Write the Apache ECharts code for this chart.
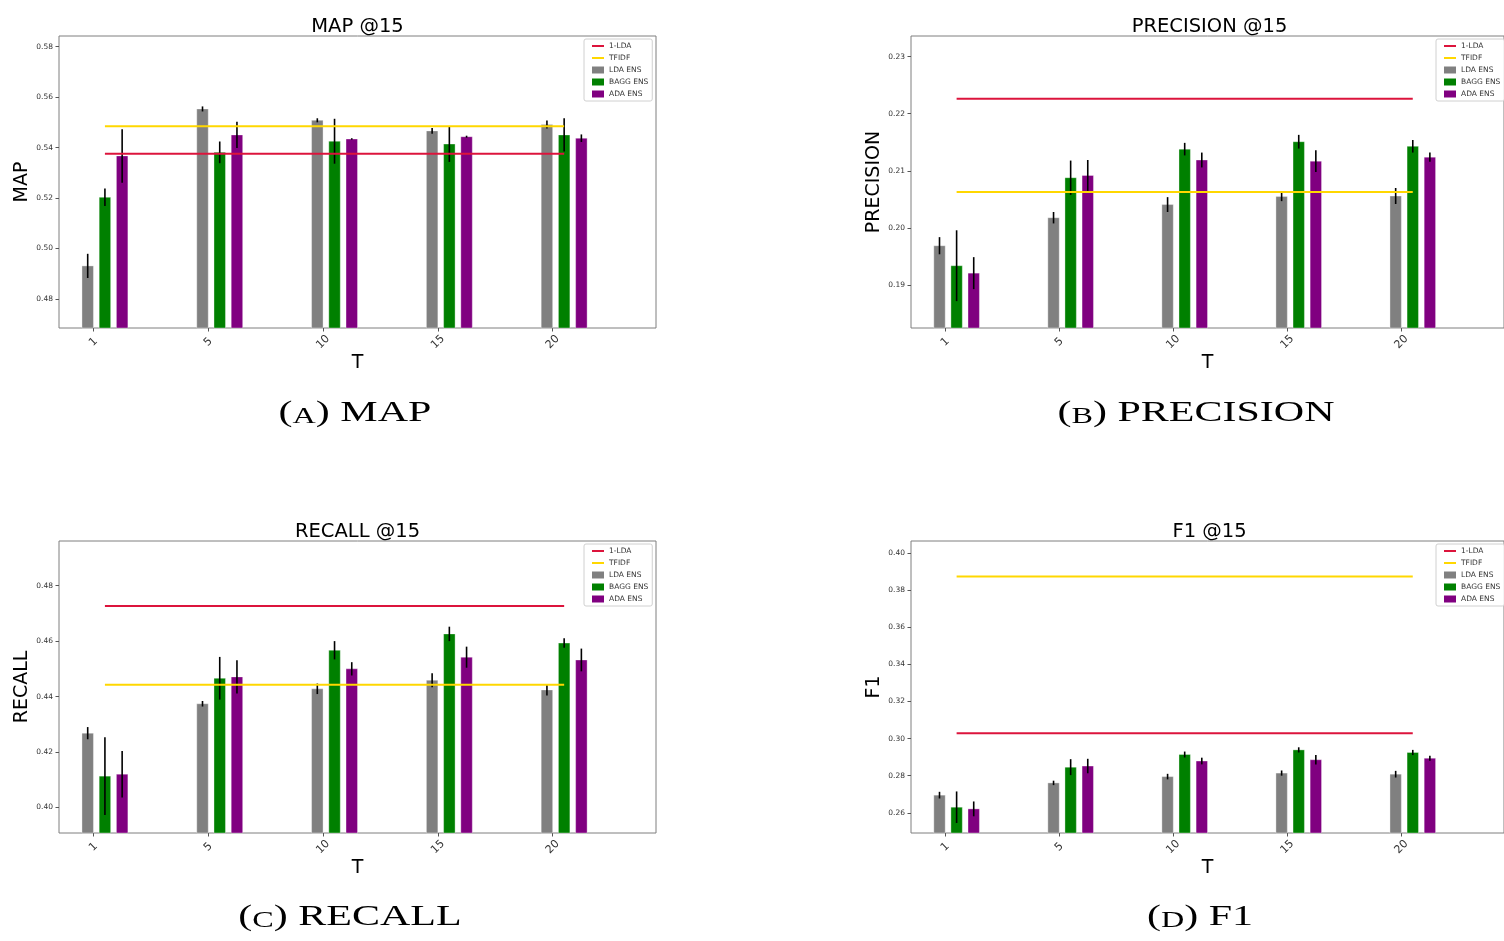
<!DOCTYPE html>
<html>
<head>
<meta charset="utf-8">
<script src="https://cdn.jsdelivr.net/npm/echarts@6/dist/echarts.min.js"></script>
<style>
html,body{margin:0;padding:0;background:#fff;}
#chart{width:1504px;height:941px;}
</style>
</head>
<body>
<div id="chart"></div>
<script>
// ---------------- data ----------------
const T_LABELS = ['1', '5', '10', '15', '20'];
const SERIES_NAMES = ['1-LDA', 'TFIDF', 'LDA ENS', 'BAGG ENS', 'ADA ENS'];

const MAP_LDA = [0.4931, 0.5553, 0.5508, 0.5466, 0.5491];
const MAP_LDA_ERR = [0.0048, 0.0010, 0.0008, 0.0011, 0.0016];
const MAP_BAGG = [0.5203, 0.5381, 0.5425, 0.5414, 0.5450];
const MAP_BAGG_ERR = [0.0035, 0.0043, 0.0089, 0.0071, 0.0066];
const MAP_ADA = [0.5367, 0.5450, 0.5434, 0.5443, 0.5437];
const MAP_ADA_ERR = [0.0106, 0.0052, 0.0003, 0.0004, 0.0015];
const MAP_ONE_LDA = 0.5375;
const MAP_TFIDF = 0.5484;
const MAP_TICKS = [0.48, 0.50, 0.52, 0.54, 0.56, 0.58];

const PREC_LDA = [0.1969, 0.2018, 0.2041, 0.2055, 0.2056];
const PREC_LDA_ERR = [0.0015, 0.0010, 0.0013, 0.0008, 0.0014];
const PREC_BAGG = [0.1934, 0.2088, 0.2138, 0.2151, 0.2143];
const PREC_BAGG_ERR = [0.0062, 0.0030, 0.0011, 0.0012, 0.0011];
const PREC_ADA = [0.1921, 0.2092, 0.2119, 0.2117, 0.2124];
const PREC_ADA_ERR = [0.0028, 0.0027, 0.0013, 0.0019, 0.0008];
const PREC_ONE_LDA = 0.2226;
const PREC_TFIDF = 0.2063;
const PREC_TICKS = [0.19, 0.20, 0.21, 0.22, 0.23];

const REC_LDA = [0.4268, 0.4374, 0.4428, 0.4459, 0.4424];
const REC_LDA_ERR = [0.0022, 0.0010, 0.0019, 0.0025, 0.0020];
const REC_BAGG = [0.4113, 0.4466, 0.4567, 0.4626, 0.4593];
const REC_BAGG_ERR = [0.0140, 0.0077, 0.0033, 0.0026, 0.0017];
const REC_ADA = [0.4120, 0.4471, 0.4500, 0.4542, 0.4532];
const REC_ADA_ERR = [0.0084, 0.0060, 0.0024, 0.0038, 0.0041];
const REC_ONE_LDA = 0.4727;
const REC_TFIDF = 0.4443;
const REC_TICKS = [0.40, 0.42, 0.44, 0.46, 0.48];

const F1_LDA = [0.2695, 0.2761, 0.2795, 0.2814, 0.2808];
const F1_LDA_ERR = [0.0018, 0.0012, 0.0015, 0.0014, 0.0018];
const F1_BAGG = [0.2630, 0.2846, 0.2914, 0.2939, 0.2925];
const F1_BAGG_ERR = [0.0085, 0.0043, 0.0016, 0.0014, 0.0014];
const F1_ADA = [0.2621, 0.2852, 0.2879, 0.2886, 0.2894];
const F1_ADA_ERR = [0.0040, 0.0039, 0.0018, 0.0026, 0.0014];
const F1_ONE_LDA = 0.3029;
const F1_TFIDF = 0.3874;
const F1_TICKS = [0.26, 0.28, 0.30, 0.32, 0.34, 0.36, 0.38, 0.40];

// ---------------- panels ----------------
const PANELS = [
  {title: 'MAP @15', yName: 'MAP', caption: ['A', ' MAP'],
   lda: MAP_LDA, ldaErr: MAP_LDA_ERR, bagg: MAP_BAGG, baggErr: MAP_BAGG_ERR, ada: MAP_ADA, adaErr: MAP_ADA_ERR,
   oneLda: MAP_ONE_LDA, tfidf: MAP_TFIDF, ticks: MAP_TICKS,
   ymin: 0.4685, ymax: 0.5842, left: 59, top: 36, height: 292, capX: 355, capY: 413},
  {title: 'PRECISION @15', yName: 'PRECISION', caption: ['B', ' PRECISION'],
   lda: PREC_LDA, ldaErr: PREC_LDA_ERR, bagg: PREC_BAGG, baggErr: PREC_BAGG_ERR, ada: PREC_ADA, adaErr: PREC_ADA_ERR,
   oneLda: PREC_ONE_LDA, tfidf: PREC_TFIDF, ticks: PREC_TICKS,
   ymin: 0.1825, ymax: 0.2336, left: 911, top: 36, height: 292, capX: 1196, capY: 413},
  {title: 'RECALL @15', yName: 'RECALL', caption: ['C', ' RECALL'],
   lda: REC_LDA, ldaErr: REC_LDA_ERR, bagg: REC_BAGG, baggErr: REC_BAGG_ERR, ada: REC_ADA, adaErr: REC_ADA_ERR,
   oneLda: REC_ONE_LDA, tfidf: REC_TFIDF, ticks: REC_TICKS,
   ymin: 0.3908, ymax: 0.4961, left: 59, top: 541, height: 292, capX: 350, capY: 917},
  {title: 'F1 @15', yName: 'F1', caption: ['D', ' F1'],
   lda: F1_LDA, ldaErr: F1_LDA_ERR, bagg: F1_BAGG, baggErr: F1_BAGG_ERR, ada: F1_ADA, adaErr: F1_ADA_ERR,
   oneLda: F1_ONE_LDA, tfidf: F1_TFIDF, ticks: F1_TICKS,
   ymin: 0.2491, ymax: 0.4065, left: 911, top: 541, height: 292, capX: 1200, capY: 917}
];

const GRID_W = 597;
const BAR_W = 0.1;
const OFFSETS = {lda: -0.05, bagg: 0.10, ada: 0.25};
const COLORS = {oneLda: '#dc143c', tfidf: '#ffd700', lda: '#808080', bagg: '#008000', ada: '#800080'};
const FONT = 'DejaVu Sans';
const XMIN = -0.3, XMAX = 4.9;

function barRenderer(offset, color) {
  return function (params, api) {
    const x = api.value(0) + offset;
    const v = api.value(1);
    const e = api.value(2);
    const lt = api.coord([x - BAR_W / 2, v]);
    const rt = api.coord([x + BAR_W / 2, v]);
    const cs = params.coordSys;
    const bottom = cs.y + cs.height;
    const eTop = api.coord([x, v + e]);
    const eBot = api.coord([x, v - e]);
    return {
      type: 'group',
      children: [
        {type: 'rect', shape: {x: lt[0], y: lt[1], width: rt[0] - lt[0], height: bottom - lt[1]},
         style: {fill: color, stroke: 'rgba(255,255,255,0.35)', lineWidth: 1}},
        {type: 'line', shape: {x1: eTop[0], y1: eTop[1], x2: eBot[0], y2: eBot[1]},
         style: {stroke: '#000', lineWidth: 1.6}}
      ]
    };
  };
}

const grid = [], xAxis = [], yAxis = [], series = [], title = [], legend = [], graphic = [];
const xIdx = T_LABELS.map((_, i) => i);

PANELS.forEach((p, k) => {
  grid.push({left: p.left, top: p.top, width: GRID_W, height: p.height,
    show: true, borderColor: '#7f7f7f', borderWidth: 1, backgroundColor: '#fff', containLabel: false});
  xAxis.push({
    type: 'value', gridIndex: k, min: XMIN, max: XMAX, position: 'bottom',
    name: 'T', nameLocation: 'middle', nameGap: 26,
    nameTextStyle: {fontFamily: FONT, fontSize: 19, color: '#000'},
    axisLine: {show: false, onZero: false}, splitLine: {show: false},
    axisTick: {show: true, length: 3.5, lineStyle: {color: '#555'}, customValues: xIdx},
    axisLabel: {customValues: xIdx, formatter: v => T_LABELS[Math.round(v)],
      rotate: 45, align: 'center', verticalAlign: 'middle', margin: 14,
      fontFamily: FONT, fontSize: 11, color: '#333'}
  });
  yAxis.push({
    type: 'value', gridIndex: k, min: p.ymin, max: p.ymax, position: 'left',
    name: p.yName, nameLocation: 'middle', nameGap: 27,
    nameTextStyle: {fontFamily: FONT, fontSize: 19, color: '#000'},
    axisLine: {show: false, onZero: false}, splitLine: {show: false},
    axisTick: {show: true, length: 3.5, lineStyle: {color: '#555'}, customValues: p.ticks},
    axisLabel: {customValues: p.ticks, formatter: v => v.toFixed(2), margin: 6,
      fontFamily: FONT, fontSize: 7.5, color: '#333'}
  });
  const x0 = xIdx[0] + OFFSETS.bagg, x1 = xIdx[xIdx.length - 1] + OFFSETS.bagg;
  series.push({name: '1-LDA', type: 'line', xAxisIndex: k, yAxisIndex: k, symbol: 'none', z: 4,
    color: COLORS.oneLda, lineStyle: {color: COLORS.oneLda, width: 2}, itemStyle: {color: COLORS.oneLda},
    data: [[x0, p.oneLda], [x1, p.oneLda]], silent: true});
  series.push({name: 'TFIDF', type: 'line', xAxisIndex: k, yAxisIndex: k, symbol: 'none', z: 4,
    color: COLORS.tfidf, lineStyle: {color: COLORS.tfidf, width: 2}, itemStyle: {color: COLORS.tfidf},
    data: [[x0, p.tfidf], [x1, p.tfidf]], silent: true});
  [['LDA ENS', 'lda', p.lda, p.ldaErr], ['BAGG ENS', 'bagg', p.bagg, p.baggErr], ['ADA ENS', 'ada', p.ada, p.adaErr]]
    .forEach(([name, key, vals, errs]) => {
      series.push({name: name, type: 'custom', xAxisIndex: k, yAxisIndex: k, z: 2,
        itemStyle: {color: COLORS[key]}, color: COLORS[key],
        renderItem: barRenderer(OFFSETS[key], COLORS[key]),
        encode: {x: 0, y: 1},
        data: vals.map((v, i) => [xIdx[i], v, errs[i]]), silent: true});
    });
  title.push({text: p.title, left: p.left + GRID_W / 2 - 5, top: p.top - 24, textAlign: 'center',
    textStyle: {fontFamily: FONT, fontSize: 19.5, fontWeight: 'normal', color: '#000'}});
  legend.push({
    left: p.left + 525, top: p.top + 3, orient: 'vertical',
    itemWidth: 12, itemHeight: 7, itemGap: 4, padding: [3, 4, 3, 8],
    borderColor: '#d0d0d0', borderWidth: 1, borderRadius: 2, backgroundColor: '#fff',
    textStyle: {fontFamily: FONT, fontSize: 7.5, color: '#333', lineHeight: 7},
    selectedMode: false,
    data: [
      {name: '1-LDA', icon: 'path://M0,0H12V2H0Z'},
      {name: 'TFIDF', icon: 'path://M0,0H12V2H0Z'},
      {name: 'LDA ENS', icon: 'rect'},
      {name: 'BAGG ENS', icon: 'rect'},
      {name: 'ADA ENS', icon: 'rect'}
    ]
  });
  graphic.push({
    type: 'text', x: p.capX, y: p.capY, scaleX: 1.4, scaleY: 1,
    style: {
      text: '{p|(}{s|' + p.caption[0] + '}{p|)' + p.caption[1] + '}',
      textAlign: 'center', textVerticalAlign: 'middle', fill: '#000',
      rich: {
        p: {fontFamily: 'Liberation Serif', fontSize: 30, fill: '#000', verticalAlign: 'bottom'},
        s: {fontFamily: 'Liberation Serif', fontSize: 23, fill: '#000', verticalAlign: 'bottom'}
      }
    }
  });
});

const chart = echarts.init(document.getElementById('chart'), null, {renderer: 'canvas'});
chart.setOption({
  animation: false,
  backgroundColor: '#fff',
  title, legend, grid, xAxis, yAxis, series, graphic
});
</script>
</body>
</html>
